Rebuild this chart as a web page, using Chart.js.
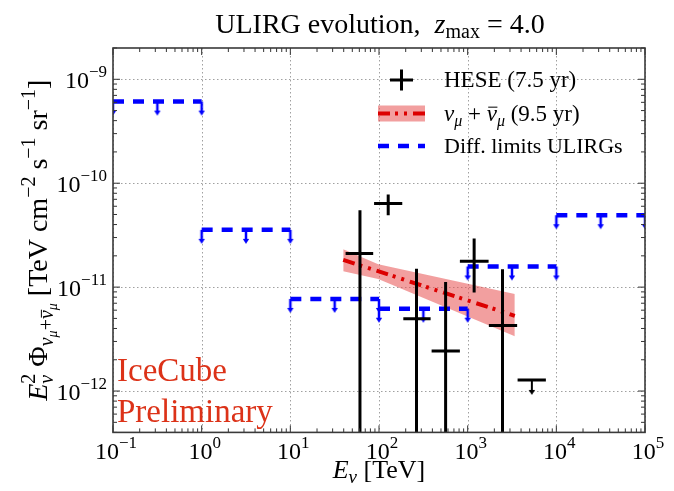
<!DOCTYPE html>
<html lang="en">
<head>
<meta charset="UTF-8" />
<title>ULIRG evolution</title>
<script src="https://cdn.jsdelivr.net/npm/chart.js"></script>
<style>
  html, body { margin: 0; padding: 0; background: #fff; }
</style>
</head>
<body>
<canvas id="chart" width="674" height="491"></canvas>
<script>
// differential upper limits (one per decade of energy)
const limitEdges = [0.1, 1, 10, 100, 1e3, 1e4, 1e5];
const limitValues = [6.1e-10, 3.56e-11, 7.7e-12, 6.2e-12, 1.58e-11, 4.92e-11];

// HESE 7.5 yr points: energy, bin edges, flux, error bar ends (0 = down to zero)
const heseE = [61, 127, 265, 564, 1183, 2472];
const heseLo = [42, 88, 188, 392, 817, 1734];
const heseHi = [86, 183, 382, 817, 1722, 3614];
const heseFlux = [2.11e-11, 6.38e-11, 4.95e-12, 2.43e-12, 1.77e-11, 4.28e-12];
const heseUp = [5.5e-11, 7.78e-11, 1.5e-11, 1.12e-11, 2.94e-11, 1.49e-11];
const heseDown = [0, 4.92e-11, 0, 0, 8.89e-12, 0];

// HESE upper limit
const ulE = [5297];
const ulLo = [3656];
const ulHi = [7621];
const ulFlux = [1.28e-12];

// numu 9.5 yr fit and its band
const bandE = [39.5, 98, 3400];
const bandUpper = [2.32e-11, 1.66e-11, 8.57e-12];
const bandLower = [1.42e-11, 1.20e-11, 3.36e-12];
const fitE = [39.5, 3400];
const fitFlux = [1.83e-11, 5.3e-12];

// axis ticks (powers of ten)
const xTickExp = [-1, 0, 1, 2, 3, 4, 5];
const yTickExp = [-12, -11, -10, -9];

const BLUE = '#0000ff';
const RED = 'rgb(220,0,0)';
const BAND = 'rgba(232,80,80,0.55)';
const SERIF = '"Liberation Serif", "DejaVu Serif", serif';

// down arrows used as point images
function makeArrow(color, len, lw) {
  const c = document.createElement('canvas');
  c.width = 12;
  c.height = 2 * (len + 4);
  const g = c.getContext('2d');
  const cx = 6, cy = c.height / 2;
  g.strokeStyle = color;
  g.fillStyle = color;
  g.lineWidth = lw;
  g.beginPath();
  g.moveTo(cx, cy);
  g.lineTo(cx, cy + len - 3);
  g.stroke();
  g.beginPath();
  g.moveTo(cx - 3.2, cy + len - 4);
  g.lineTo(cx + 3.2, cy + len - 4);
  g.lineTo(cx, cy + len + 1);
  g.closePath();
  g.fill();
  return c;
}
const blueArrow = makeArrow(BLUE, 13, 2.5);
const blackArrow = makeArrow('#000', 14, 2);

// build datasets from arrays
const limitLine = [];
const limitArrows = [];
limitValues.forEach((v, i) => {
  const a = limitEdges[i], b = limitEdges[i + 1];
  limitLine.push({x: a, y: v}, {x: b, y: v}, {x: b, y: null});
  limitArrows.push({x: a, y: v}, {x: Math.sqrt(a * b), y: v}, {x: b, y: v});
});

const heseH = [];
const heseV = [];
heseE.forEach((e, i) => {
  heseH.push({x: heseLo[i], y: heseFlux[i]}, {x: heseHi[i], y: heseFlux[i]}, {x: heseHi[i], y: null});
  const lo = heseDown[i] > 0 ? heseDown[i] : 1e-15;
  heseV.push({x: e, y: lo}, {x: e, y: heseUp[i]}, {x: e, y: null});
});
ulE.forEach((e, i) => {
  heseH.push({x: ulLo[i], y: ulFlux[i]}, {x: ulHi[i], y: ulFlux[i]}, {x: ulHi[i], y: null});
});

// rich text: parts {t, s, i, dy, keep, bar}
function fontOf(p) { return (p.i ? 'italic ' : '') + p.s + 'px ' + SERIF; }
function richWidth(ctx, parts) {
  let w = 0, held = 0;
  parts.forEach(p => {
    ctx.font = fontOf(p);
    const pw = ctx.measureText(p.t).width;
    if (p.keep) { held = pw; return; }
    w += Math.max(pw, held);
    held = 0;
  });
  return w;
}
function drawRich(ctx, parts, x, y, align) {
  const w = richWidth(ctx, parts);
  let cx = align === 'center' ? x - w / 2 : align === 'right' ? x - w : x;
  let held = 0;
  ctx.textAlign = 'left';
  ctx.textBaseline = 'alphabetic';
  parts.forEach(p => {
    ctx.font = fontOf(p);
    const pw = ctx.measureText(p.t).width;
    ctx.fillText(p.t, cx, y + (p.dy || 0));
    if (p.bar) {
      ctx.save();
      ctx.lineWidth = 1;
      ctx.strokeStyle = ctx.fillStyle;
      const by = y + (p.dy || 0) - p.s * 0.58;
      ctx.beginPath();
      ctx.moveTo(cx + 1.5, by);
      ctx.lineTo(cx + pw + 0.5, by);
      ctx.stroke();
      ctx.restore();
    }
    if (p.keep) { held = pw; return; }
    cx += Math.max(pw, held);
    held = 0;
  });
}

const titleParts = [
  {t: 'ULIRG evolution,  ', s: 28},
  {t: 'z', s: 28, i: true},
  {t: 'max', s: 20, dy: 5},
  {t: ' = 4.0', s: 28}
];
const xTitleParts = [
  {t: 'E', s: 26, i: true},
  {t: 'ν', s: 19, i: true, dy: 5},
  {t: ' [TeV]', s: 26}
];
const yTitleParts = [
  {t: 'E', s: 28, i: true},
  {t: 'ν', s: 20, i: true, dy: 6, keep: true},
  {t: '2', s: 20, dy: -12},
  {t: ' Φ', s: 28},
  {t: 'ν', s: 20, i: true, dy: 6},
  {t: 'μ', s: 14, i: true, dy: 10},
  {t: '+', s: 20, dy: 6},
  {t: 'ν', s: 20, i: true, dy: 6, bar: true},
  {t: 'μ', s: 14, i: true, dy: 10},
  {t: ' [TeV cm', s: 28},
  {t: '−2', s: 20, dy: -12},
  {t: ' s', s: 28},
  {t: '−1', s: 20, dy: -12},
  {t: ' sr', s: 28},
  {t: '−1', s: 20, dy: -12},
  {t: ']', s: 28}
];
const legendRows = [
  [{t: 'HESE (7.5 yr)', s: 23}],
  [{t: 'ν', s: 23, i: true}, {t: 'μ', s: 16, i: true, dy: 5}, {t: ' + ', s: 23},
   {t: 'ν', s: 23, i: true, bar: true}, {t: 'μ', s: 16, i: true, dy: 5}, {t: ' (9.5 yr)', s: 23}],
  [{t: 'Diff. limits ULIRGs', s: 22}]
];

const decor = {
  id: 'decor',
  beforeDatasetsDraw(chart) {
    const {ctx, chartArea: a, scales: {x, y}} = chart;
    ctx.save();
    ctx.strokeStyle = '#a0a0a0';
    ctx.lineWidth = 1;
    ctx.setLineDash([1.5, 2.5]);
    xTickExp.forEach(p => {
      const px = Math.round(x.getPixelForValue(10 ** p)) + 0.5;
      ctx.beginPath(); ctx.moveTo(px, a.top); ctx.lineTo(px, a.bottom); ctx.stroke();
    });
    yTickExp.forEach(p => {
      const py = Math.round(y.getPixelForValue(10 ** p)) + 0.5;
      ctx.beginPath(); ctx.moveTo(a.left, py); ctx.lineTo(a.right, py); ctx.stroke();
    });
    ctx.restore();
  },
  afterDatasetsDraw(chart) {
    const {ctx, chartArea: a, scales: {x, y}} = chart;
    ctx.save();
    ctx.strokeStyle = '#333';
    ctx.lineWidth = 1;
    const tick = (x0, y0, x1, y1) => { ctx.beginPath(); ctx.moveTo(x0, y0); ctx.lineTo(x1, y1); ctx.stroke(); };
    for (let d = -1; d <= 5; d++) {
      for (let m = 1; m <= 9; m++) {
        const v = m * 10 ** d;
        if (v > 1e5 * 1.0001) break;
        const px = x.getPixelForValue(v);
        const L = m === 1 ? 7 : 4;
        tick(px, a.bottom, px, a.bottom - L);
        tick(px, a.top, px, a.top + L);
      }
    }
    for (let d = -13; d <= -9; d++) {
      for (let m = 1; m <= 9; m++) {
        const v = m * 10 ** d;
        if (v < y.min || v > y.max) continue;
        const py = y.getPixelForValue(v);
        const L = m === 1 ? 7 : 4;
        tick(a.left, py, a.left + L, py);
        tick(a.right, py, a.right - L, py);
      }
    }
    ctx.lineWidth = 1.6;
    ctx.strokeStyle = '#3a3a3a';
    ctx.strokeRect(a.left, a.top, a.right - a.left, a.bottom - a.top);
    ctx.restore();
  },
  afterDraw(chart) {
    const {ctx, chartArea: a, scales: {x, y}} = chart;
    ctx.save();
    ctx.fillStyle = '#000';
    // tick labels
    xTickExp.forEach(p => {
      const px = x.getPixelForValue(10 ** p);
      drawRich(ctx, [{t: '10', s: 24}, {t: p < 0 ? '−' + (-p) : String(p), s: 17, dy: -11}], px + 3, a.bottom + 27, 'center');
    });
    yTickExp.forEach(p => {
      const py = y.getPixelForValue(10 ** p);
      drawRich(ctx, [{t: '10', s: 24}, {t: '−' + (-p), s: 17, dy: -11}], a.left - 6, py + 9, 'right');
    });
    // titles
    drawRich(ctx, titleParts, (a.left + a.right) / 2 + 1, 33, 'center');
    drawRich(ctx, xTitleParts, (a.left + a.right) / 2, 478, 'center');
    ctx.save();
    ctx.translate(47, (a.top + a.bottom) / 2);
    ctx.rotate(-Math.PI / 2);
    drawRich(ctx, yTitleParts, 0, 0, 'center');
    ctx.restore();

    // legend
    const hx0 = 378, hx1 = 425, tx = 444;
    const rows = [80, 113.5, 146];
    ctx.strokeStyle = '#000';
    ctx.lineWidth = 3;
    ctx.beginPath();
    ctx.moveTo(390, rows[0]); ctx.lineTo(413, rows[0]);
    ctx.moveTo(401.5, rows[0] - 10.5); ctx.lineTo(401.5, rows[0] + 10.5);
    ctx.stroke();
    ctx.fillStyle = BAND;
    ctx.fillRect(hx0, rows[1] - 8, hx1 - hx0, 16);
    ctx.strokeStyle = RED;
    ctx.lineWidth = 4;
    ctx.setLineDash([12, 5, 3, 6, 3, 6]);
    ctx.beginPath(); ctx.moveTo(hx0, rows[1]); ctx.lineTo(hx1, rows[1]); ctx.stroke();
    ctx.strokeStyle = BLUE;
    ctx.lineWidth = 4.5;
    ctx.setLineDash([11, 9]);
    ctx.beginPath(); ctx.moveTo(hx0, rows[2]); ctx.lineTo(hx1, rows[2]); ctx.stroke();
    ctx.setLineDash([]);
    ctx.fillStyle = '#000';
    legendRows.forEach((r, i) => drawRich(ctx, r, tx, rows[i] + 7, 'left'));

    // watermark
    ctx.fillStyle = '#dc3218';
    ctx.font = '33px ' + SERIF;
    ctx.textAlign = 'left';
    ctx.fillText('IceCube', 117, 381);
    ctx.fillText('Preliminary', 117, 422);
    ctx.restore();
  }
};

const lineBase = {showLine: true, pointRadius: 0, spanGaps: false, fill: false};

new Chart(document.getElementById('chart'), {
  type: 'scatter',
  data: {
    datasets: [
      {...lineBase, label: 'HESE bins', data: heseH, borderColor: '#000', borderWidth: 3, order: 0},
      {...lineBase, label: 'HESE errors', data: heseV, borderColor: '#000', borderWidth: 3, order: 0},
      {label: 'HESE UL', data: ulE.map((e, i) => ({x: e, y: ulFlux[i]})), pointStyle: blackArrow, pointRadius: 3, order: 0},
      {...lineBase, label: 'Diff. limits ULIRGs', data: limitLine, borderColor: BLUE, borderWidth: 4.5, borderDash: [11, 9], order: 2},
      {label: 'limit arrows', data: limitArrows, pointStyle: blueArrow, pointRadius: 3, order: 2},
      {...lineBase, label: 'numu fit', data: fitE.map((e, i) => ({x: e, y: fitFlux[i]})), borderColor: RED, borderWidth: 4, borderDash: [12, 5, 3, 6, 3, 6], order: 3},
      {...lineBase, label: 'band upper', data: bandE.map((e, i) => ({x: e, y: bandUpper[i]})), borderWidth: 0, borderColor: 'rgba(0,0,0,0)', backgroundColor: BAND, fill: '+1', order: 4},
      {...lineBase, label: 'band lower', data: bandE.map((e, i) => ({x: e, y: bandLower[i]})), borderWidth: 0, borderColor: 'rgba(0,0,0,0)', order: 5}
    ]
  },
  options: {
    responsive: false,
    animation: false,
    events: [],
    layout: {padding: {left: 113, right: 29, top: 48, bottom: 58.6}},
    plugins: {legend: {display: false}, tooltip: {enabled: false}},
    scales: {
      x: {type: 'logarithmic', min: 0.1, max: 1e5, display: false},
      y: {type: 'logarithmic', min: 4e-13, max: 2e-9, display: false}
    }
  },
  plugins: [decor]
});
</script>
</body>
</html>
